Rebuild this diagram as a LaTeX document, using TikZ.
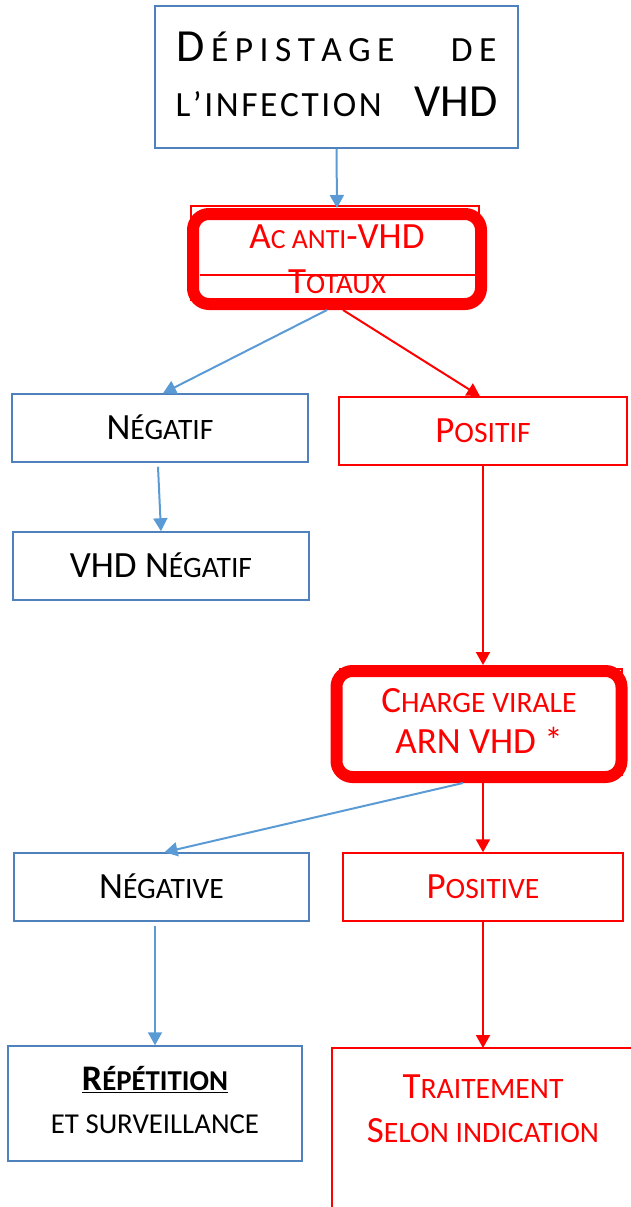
\documentclass[tikz,border=0pt]{standalone}
\usepackage{fontspec}
\setmainfont{Carlito}
\usetikzlibrary{arrows.meta}
\definecolor{boxblue}{RGB}{79,129,189}
\definecolor{arrblue}{RGB}{91,155,213}
\definecolor{vred}{RGB}{255,0,0}
\makeatletter
\newdimen\smcdim
\newcommand\smcx[2]{{\smcdim=\f@size pt\smcdim=#1\smcdim\fontsize{\strip@pt\smcdim}{\strip@pt\smcdim}\selectfont #2}}
\newcommand\smc[1]{\smcx{0.8}{#1}}
\makeatother
\begin{document}
\begin{tikzpicture}[x=1pt,y=-1pt,
  frame/.style={draw=boxblue,line width=1.5pt,inner sep=0pt,align=center,font=\fontsize{37}{44}\selectfont},
  box/.style={frame,minimum height=68pt,text height=23.8pt,text depth=0pt},
  rbox/.style={box,draw=vred,text=vred},
  heavybox/.style={draw=vred,line width=12pt,rounded corners=16pt,inner sep=0pt,text=vred,align=center},
  thinred/.style={draw=vred,line width=1.2pt},
  barrow/.style={draw=arrblue,line width=2pt,-{Triangle[length=13pt,width=14pt]}},
  rarrow/.style={draw=vred,line width=2pt,-{Triangle[length=13pt,width=14pt]}},
]
\useasboundingbox (0,0) rectangle (631,1207);

% title
\node[frame,minimum width=363pt,minimum height=142pt,font=\fontsize{46}{55}\selectfont,text depth=6pt] (title) at (336.5,77)
  {\makebox[320pt][s]{D\hfill\smcx{0.77}{É\hfill P\hfill I\hfill S\hfill T\hfill A\hfill G\hfill E}\hspace{50pt}\hfill\smcx{0.77}{D\hfill E}}\\
   \makebox[322pt][s]{\smcx{0.77}{L\hfill ’\hfill I\hfill N\hfill F\hfill E\hfill C\hfill T\hfill I\hfill O\hfill N}\hspace{30pt}\hfill VHD}};

% Ac anti-VHD totaux
\draw[thinred] (191,206) rectangle (479,300);
\draw[thinred] (200,275) -- (476,275);
\node[heavybox,minimum width=288pt,minimum height=90pt,font=\fontsize{37}{45}\selectfont,text height=70pt] (ac) at (337,259)
  {A\smcx{0.75}{C ANTI}-VHD\\T\smcx{0.78}{OTAUX}};

% first level
\node[box,minimum width=296pt] (neg1) at (160,428) {N\smc{ÉGATIF}};
\node[rbox,minimum width=288pt] (pos1) at (483,431) {P\smc{OSITIF}};
\node[box,minimum width=296pt] (vhdneg) at (161,566) {VHD N\smc{ÉGATIF}};

% charge virale
\draw[thinred] (340,669) rectangle (622,775);
\node[heavybox,minimum width=285pt,minimum height=106pt,font=\fontsize{37}{41}\selectfont,text depth=6pt] (charge) at (479,724)
  {C\smc{HARGE VIRALE}\\ARN VHD *};

% second level
\node[box,minimum width=295pt] (neg2) at (161.5,887) {N\smc{ÉGATIVE}};
\node[rbox,minimum width=280pt] (pos2) at (483,887) {P\smc{OSITIVE}};

% bottom
\node[frame,minimum width=294pt,minimum height=115pt,font=\fontsize{36}{43}\selectfont,text depth=7pt] (rep) at (155,1103.5)
  {\underline{\textbf{R\smc{ÉPÉTITION}}}\\\smc{ET SURVEILLANCE}};
\draw[draw=vred,line width=1.5pt] (332,1048) rectangle (680,1260);
\coordinate (traittop) at (483,1048);
\node[text=vred,align=center,inner sep=0pt,font=\fontsize{37}{44}\selectfont] (trait) at (483,1109)
  {T\smc{RAITEMENT}\\S\smc{ELON INDICATION}};

% connectors
\draw[barrow] (title.south) -- (ac.north);
\draw[barrow] ([xshift=-10pt]ac.south) -- ([xshift=3pt]neg1.north);
\draw[rarrow] ([xshift=6pt]ac.south) -- ([xshift=-3pt]pos1.north);
\draw[barrow] ([xshift=-2pt,yshift=-4pt]neg1.south) -- (vhdneg.north);
\draw[rarrow] (pos1.south) -- ([xshift=4pt]charge.north);
\draw[barrow] ([xshift=-16pt]charge.south) -- ([xshift=3pt]neg2.north);
\draw[rarrow] ([xshift=4pt]charge.south) -- (pos2.north);
\draw[barrow] ([xshift=-6.5pt,yshift=-4pt]neg2.south) -- (rep.north);
\draw[rarrow] (pos2.south) -- (traittop);
\end{tikzpicture}
\end{document}
